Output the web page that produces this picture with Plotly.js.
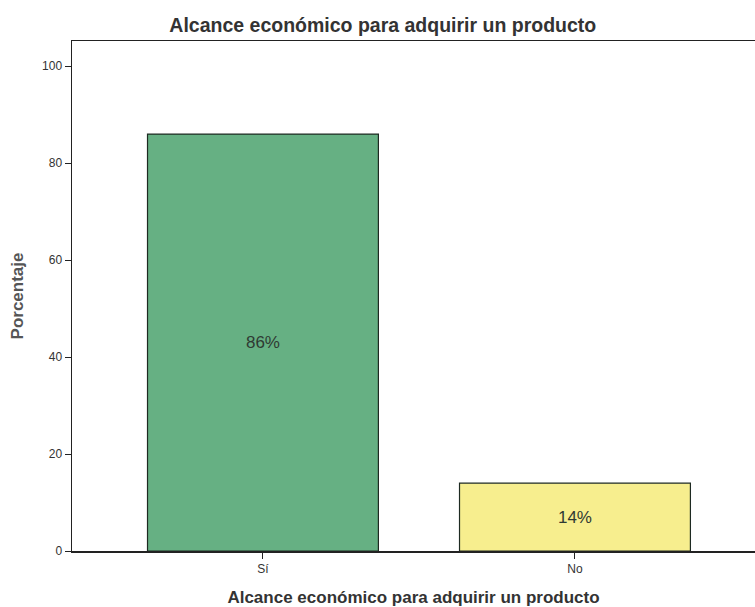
<!DOCTYPE html>
<html>
<head>
<meta charset="utf-8">
<script src="https://cdn.plot.ly/plotly-3.0.1.min.js"></script>
<style>html,body{margin:0;padding:0;background:#fff;}#chart{width:755px;height:607px;}</style>
</head>
<body>
<div id="chart"></div>
<script>
var categories = ["Sí", "No"];
var percentages = [86, 14];
var barLabels = ["86%", "14%"];
var barColors = ["#66b083", "#f7ee8e"];

var trace = {
  type: "bar",
  x: categories,
  y: percentages,
  text: barLabels,
  textposition: "inside",
  insidetextanchor: "middle",
  textfont: {family: "Liberation Sans, Arial, sans-serif", size: 17, color: "#2f3a33"},
  marker: {color: barColors, line: {color: "#1e2a22", width: 1.2}},
  width: 0.74,
  hoverinfo: "none"
};

var layout = {
  width: 755, height: 607,
  margin: {l: 72, r: 0, t: 41, b: 56},
  paper_bgcolor: "#ffffff",
  plot_bgcolor: "#ffffff",
  showlegend: false,
  title: {
    text: "<b>Alcance económico para adquirir un producto</b>",
    font: {family: "Liberation Sans, Arial, sans-serif", size: 19.5, color: "#333333"},
    x: 0.507, xanchor: "center", y: 0.958, yanchor: "middle"
  },
  xaxis: {
    type: "category",
    range: [-0.612, 1.577],
    showline: true, linecolor: "#222222", linewidth: 1.5,
    mirror: true,
    ticks: "outside", ticklen: 6, tickcolor: "#222222",
    tickfont: {family: "Liberation Sans, Arial, sans-serif", size: 12, color: "#333333"},
    showgrid: false, zeroline: false,
    title: {text: "<b>Alcance económico para adquirir un producto</b>", standoff: 16,
      font: {family: "Liberation Sans, Arial, sans-serif", size: 17, color: "#333333"}}
  },
  yaxis: {
    range: [0, 105.2],
    tickvals: [0, 20, 40, 60, 80, 100],
    showline: true, linecolor: "#222222", linewidth: 1.5,
    ticks: "outside", ticklen: 6, tickcolor: "#222222",
    tickfont: {family: "Liberation Sans, Arial, sans-serif", size: 12, color: "#333333"},
    showgrid: false, zeroline: false,
    title: {text: "<b>Porcentaje</b>", standoff: 14,
      font: {family: "Liberation Sans, Arial, sans-serif", size: 17, color: "#555555"}}
  }
};

Plotly.newPlot("chart", [trace], layout, {displayModeBar: false, staticPlot: true});
</script>
</body>
</html>
